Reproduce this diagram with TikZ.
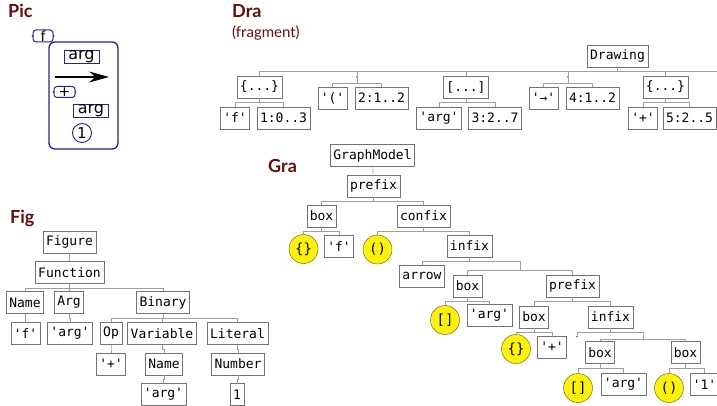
\documentclass[tikz,border=0pt]{standalone}
\usepackage{fontspec}
\setmonofont{DejaVu Sans Mono}
\newfontfamily\picfont{DejaVu Sans}
\newfontfamily\headfont{Lato}
\usetikzlibrary{arrows.meta}
\definecolor{headRed}{RGB}{102,12,12}
\definecolor{picBlue}{RGB}{36,36,140}
\definecolor{ballYellow}{RGB}{255,244,0}

\begin{document}
\begin{tikzpicture}[x=1pt,y=-1pt,
    term/.style={draw=gray!90!black, line width=0.5pt, inner xsep=3pt, inner ysep=0pt,
        minimum height=22pt, font=\fontsize{13}{15}\selectfont\ttfamily},
    ball/.style={circle, draw=gray!60!black, line width=0.4pt, fill=ballYellow,
        minimum size=29pt, inner sep=0pt, font=\fontsize{14}{15}\selectfont\ttfamily},
    knot/.style={circle, fill=gray, inner sep=0pt, minimum size=2.4pt},
    joint/.style={inner sep=0pt, minimum size=0pt},
    branch/.style={draw=gray!75, line width=0.6pt},
    heading/.style={anchor=base west, inner sep=0pt, text=headRed,
        font=\fontsize{18}{20}\selectfont\headfont\bfseries},
    picbox/.style={draw=picBlue, line width=0.9pt, inner sep=0pt, minimum width=35pt,
        minimum height=13pt, font=\fontsize{16}{16}\selectfont\picfont},
    brace/.style={draw=picBlue, line width=1pt, rounded corners=3pt, inner sep=0pt,
        minimum width=20pt, minimum height=12pt, font=\fontsize{14}{14}\selectfont\picfont}
]
    \useasboundingbox (0,0) rectangle (717,406);

    % Headings
    \node[heading] (pic-title) at (8,18) {Pic};
    \node[heading] (dra-title) at (232,18) {Dra};
    \node[heading, font=\fontsize{15}{17}\selectfont\headfont] (dra-note) at (232,38) {(fragment)};
    \node[heading] (gra-title) at (268,173) {Gra};
    \node[heading] (fig-title) at (10,223) {Fig};

    % Pic: the drawn picture
    \draw[picBlue, line width=1.3pt, rounded corners=6pt] (49,42) rectangle (118,149);
    \node[brace] (pic-f) at (43,36) {f};
    \node[picbox] (pic-arg1) at (81.5,56.5) {arg};
    \coordinate (pic-tail) at (55,77);
    \coordinate (pic-head) at (109,77);
    \draw[line width=1.3pt, -{Stealth[length=20pt,width=11pt]}] (pic-tail) -- (pic-head);
    \node[brace, minimum width=21pt, minimum height=11pt] (pic-plus) at (64.5,92) {+};
    \node[picbox] (pic-arg2) at (91,110.5) {arg};
    \node[circle, draw=picBlue, line width=0.9pt, inner sep=0pt, minimum size=19pt,
        font=\fontsize{15}{15}\selectfont\picfont] (pic-one) at (82,133) {1};
    \foreach \b in {pic-f,pic-plus} {
        \fill[picBlue] (\b.west) circle (1pt);
        \fill[picBlue] (\b.east) circle (1pt);
    }

    % Dra: the drawing tree
    \node[term] (drawing) at (617.5,56) {Drawing};
    \node[term] (dra-curly) at (259.5,87) {\{...\}};
    \node[knot] (dra-knot1) at (357,77) {};
    \node[term] (dra-square) at (466,87) {[...]};
    \node[knot] (dra-knot2) at (568,77) {};
    \node[term] (dra-curly2) at (665.5,87) {\{...\}};
    \coordinate (dra-more) at (730,90);
    \node[term] (dra-f) at (235,118) {'f'};
    \node[term] (dra-pos1) at (283.5,118) {1:0..3};
    \node[term] (dra-paren) at (332.5,98) {'('};
    \node[term] (dra-pos2) at (381.5,98) {2:1..2};
    \node[term] (dra-arg) at (439,118) {'arg'};
    \node[term] (dra-pos3) at (495,118) {3:2..7};
    \node[term] (dra-arrow) at (543.5,98) {'→'};
    \node[term] (dra-pos4) at (592.5,98) {4:1..2};
    \node[term] (dra-plus) at (643,118) {'+'};
    \node[term] (dra-pos5) at (689.5,118) {5:2..5};
    \foreach \p/\c in {drawing/dra-curly, drawing/dra-knot1, drawing/dra-square,
        drawing/dra-knot2, drawing/dra-curly2, dra-curly/dra-f, dra-curly/dra-pos1,
        dra-knot1/dra-paren, dra-knot1/dra-pos2, dra-square/dra-arg, dra-square/dra-pos3,
        dra-knot2/dra-arrow, dra-knot2/dra-pos4, dra-curly2/dra-plus, dra-curly2/dra-pos5} {
        \draw[branch] (\p.south) -- ++(0,4.5) -| (\c.north);
    }
    \draw[branch] (drawing.south) -- ++(0,4.5) -| (dra-more);

    % Gra: the graph model
    \node[term] (model) at (372.5,155.5) {GraphModel};
    \node[term] (gra-prefix) at (373.5,186) {prefix};
    \node[term] (gra-box1) at (321.5,216) {box};
    \node[term] (gra-confix) at (423.5,216) {confix};
    \node[ball] (gra-ball1) at (303.5,249) {\{\}};
    \node[term] (gra-f) at (339,246.5) {'f'};
    \node[ball] (gra-ball2) at (377.5,249.5) {()};
    \node[term] (gra-infix1) at (469.5,246) {infix};
    \node[term] (gra-arrow) at (422,276) {arrow};
    \node[joint] (gra-joint1) at (520,266) {};
    \node[term] (gra-box2) at (467.5,286) {box};
    \node[term] (gra-prefix2) at (572.5,286) {prefix};
    \node[ball] (gra-ball3) at (445,320) {[]};
    \node[term] (gra-arg1) at (489.5,315) {'arg'};
    \node[term] (gra-box3) at (534,317) {box};
    \node[term] (gra-infix2) at (610.5,317) {infix};
    \node[ball] (gra-ball4) at (516,349) {\{\}};
    \node[term] (gra-plus) at (552,347) {'+'};
    \node[knot] (gra-knot) at (577,336.5) {};
    \node[joint] (gra-joint2) at (643,334.5) {};
    \node[term] (gra-box4) at (600,352.5) {box};
    \node[term] (gra-box5) at (685.5,352.5) {box};
    \node[ball] (gra-ball5) at (578,388) {[]};
    \node[term] (gra-arg2) at (623.5,384.5) {'arg'};
    \node[ball] (gra-ball6) at (669,388) {()};
    \node[term] (gra-one) at (704.5,384.5) {'1'};
    \draw[branch] (model) -- (gra-prefix);
    \foreach \p/\c in {gra-prefix/gra-box1, gra-prefix/gra-confix, gra-box1/gra-ball1,
        gra-box1/gra-f, gra-confix/gra-ball2, gra-confix/gra-infix1, gra-infix1/gra-arrow,
        gra-infix1/gra-joint1, gra-joint1/gra-box2, gra-joint1/gra-prefix2,
        gra-box2/gra-ball3, gra-box2/gra-arg1, gra-prefix2/gra-box3, gra-prefix2/gra-infix2,
        gra-box3/gra-ball4, gra-box3/gra-plus, gra-infix2/gra-knot, gra-infix2/gra-joint2,
        gra-joint2/gra-box4, gra-joint2/gra-box5, gra-box4/gra-ball5, gra-box4/gra-arg2,
        gra-box5/gra-ball6, gra-box5/gra-one} {
        \draw[branch] (\p.south) -- ++(0,4.5) -| (\c.north);
    }

    % Fig: the figure tree
    \node[term] (figure) at (69.5,242) {Figure};
    \node[term] (fig-function) at (69.5,272.5) {Function};
    \node[term] (fig-name1) at (25,302.5) {Name};
    \node[term] (fig-arg) at (69,302.5) {Arg};
    \node[term] (fig-binary) at (163,302.5) {Binary};
    \node[term] (fig-f) at (25.5,333.5) {'f'};
    \node[term] (fig-argval) at (70,333.5) {'arg'};
    \node[term] (fig-op) at (111,333.5) {Op};
    \node[term] (fig-variable) at (162,333.5) {Variable};
    \node[term] (fig-literal) at (237.5,333.5) {Literal};
    \node[term] (fig-plus) at (111,364) {'+'};
    \node[term] (fig-name2) at (164,364) {Name};
    \node[term] (fig-number) at (238,364) {Number};
    \node[term] (fig-argname) at (163.5,394.5) {'arg'};
    \node[term] (fig-one) at (237,394.5) {1};
    \draw[branch] (figure) -- (fig-function);
    \foreach \p/\c in {fig-function/fig-name1, fig-function/fig-arg, fig-function/fig-binary,
        fig-name1/fig-f, fig-arg/fig-argval, fig-binary/fig-op, fig-binary/fig-variable,
        fig-binary/fig-literal, fig-op/fig-plus, fig-variable/fig-name2,
        fig-literal/fig-number, fig-name2/fig-argname, fig-number/fig-one} {
        \draw[branch] (\p.south) -- ++(0,4.5) -| (\c.north);
    }

\end{tikzpicture}
\end{document}
